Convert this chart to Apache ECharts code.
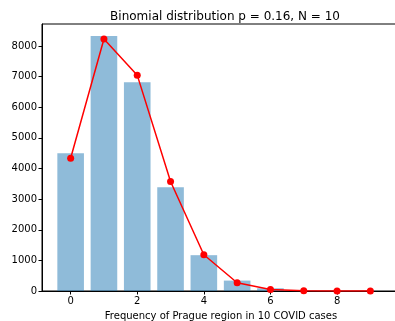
<!DOCTYPE html>
<html><head><meta charset="utf-8">
<script src="https://cdn.jsdelivr.net/npm/echarts@6/dist/echarts.min.js"></script>
<style>html,body{margin:0;padding:0;background:#fff}#c{width:395px;height:321px}</style>
</head><body><div id="c"></div>
<script>
const categories = [0,1,2,3,4,5,6,7,8,9];
const observed = [4500, 8330, 6820, 3390, 1170, 340, 90, 8, 1, 0];
const expected = [4335, 8228, 7050, 3575, 1185, 270, 50, 5, 0, 0];
const xTicks = [0,2,4,6,8];
const yTicks = [0,1000,2000,3000,4000,5000,6000,7000,8000];

const font = 'DejaVu Sans';
const chart = echarts.init(document.getElementById('c'), null, {renderer:'canvas'});
chart.setOption({
  animation:false,
  title:{text:'Binomial distribution p = 0.16, N = 10', left:220, top:6, textAlign:'center',
    textStyle:{fontFamily:font, fontSize:12, fontWeight:'normal', color:'#000'}},
  grid:{left:42, top:24, width:358, height:267, show:true, borderColor:'#000', borderWidth:1,
    backgroundColor:'transparent', containLabel:false, outerBoundsMode:'none'},
  xAxis:{type:'value', min:-0.86, max:9.89,
    name:'Frequency of Prague region in 10 COVID cases', nameLocation:'middle', nameGap:20,
    nameTextStyle:{fontFamily:font, fontSize:10, color:'#000'},
    axisLine:{show:true, onZero:false, lineStyle:{color:'#000', width:1}},
    axisTick:{show:true, length:3.5, customValues:xTicks, lineStyle:{color:'#000'}},
    axisLabel:{customValues:xTicks, fontFamily:font, fontSize:10, color:'#000', margin:5},
    splitLine:{show:false}},
  yAxis:{type:'value', min:0, max:8720,
    axisLine:{show:true, onZero:false, lineStyle:{color:'#000', width:1}},
    axisTick:{show:true, length:3.5, customValues:yTicks, lineStyle:{color:'#000'}},
    axisLabel:{customValues:yTicks, formatter:v=>String(v), fontFamily:font, fontSize:10, color:'#000', margin:5},
    splitLine:{show:false}},
  series:[
    {type:'bar', data:categories.map((c,i)=>[c, observed[i]]), barWidth:26.6,
      itemStyle:{color:'#1f77b4', opacity:0.5}, z:1},
    {type:'line', data:categories.map((c,i)=>[c, expected[i]]), symbol:'circle', symbolSize:7,
      lineStyle:{color:'#ff0000', width:1.5}, itemStyle:{color:'#ff0000'}, z:3}
  ]
});
</script></body></html>
